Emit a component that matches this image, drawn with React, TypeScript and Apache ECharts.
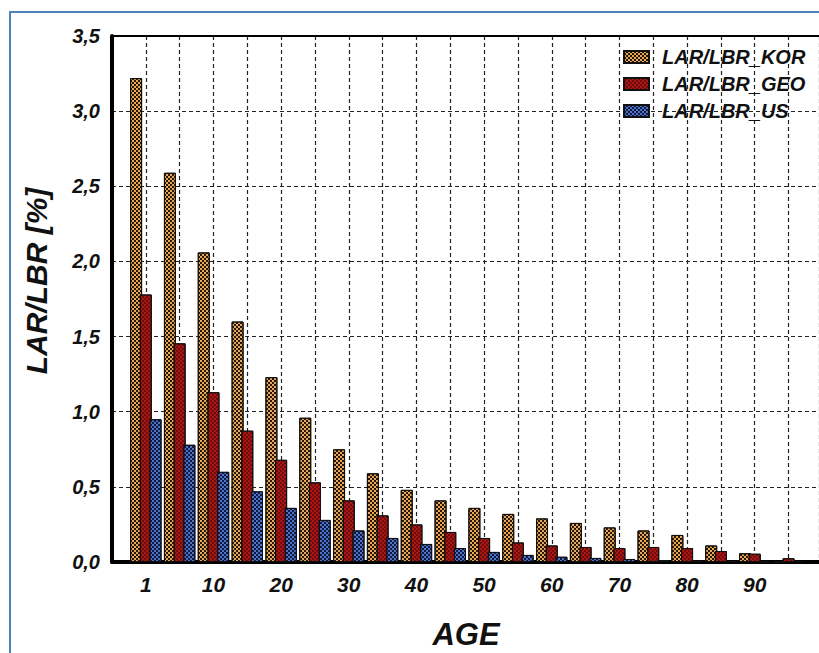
import React, { useEffect, useRef } from "react";
import * as echarts from "echarts";

const ages = ["1", "5", "10", "15", "20", "25", "30", "35", "40", "45", "50", "55", "60", "65", "70", "75", "80", "85", "90", "95"];
const xTickLabels = ["1", "10", "20", "30", "40", "50", "60", "70", "80", "90"];
const seriesNames = ["LAR/LBR_KOR", "LAR/LBR_GEO", "LAR/LBR_US"];
const korValues = [3.22, 2.59, 2.06, 1.6, 1.23, 0.96, 0.75, 0.59, 0.48, 0.41, 0.36, 0.32, 0.29, 0.26, 0.23, 0.21, 0.18, 0.11, 0.058, 0.0];
const geoValues = [1.78, 1.455, 1.13, 0.874, 0.68, 0.53, 0.41, 0.31, 0.25, 0.2, 0.16, 0.13, 0.11, 0.1, 0.093, 0.1, 0.093, 0.073, 0.055, 0.025];
const usValues = [0.95, 0.78, 0.6, 0.47, 0.36, 0.28, 0.21, 0.16, 0.12, 0.093, 0.067, 0.047, 0.035, 0.027, 0.02, 0.012, 0.008, 0.005, 0.003, 0.005];

const FONT = "'Liberation Sans', Arial, sans-serif";

function checker(color: string) {
  return {
    symbol: "rect",
    symbolSize: 1,
    color,
    dashArrayX: [[2, 2], [0, 2, 2, 0]],
    dashArrayY: [2, 0],
    rotation: 0,
  };
}

export default function App() {
  const ref = useRef<HTMLDivElement>(null);
  useEffect(() => {
    if (!ref.current) return;
    const chart = echarts.init(ref.current, null, { renderer: "svg" });
    const styles = [
      { color: "#E6A95A", decal: checker("#2a1606") },
      { color: "#A81616", decal: checker("rgba(60,0,0,0.5)") },
      { color: "#4E72C4", decal: checker("#0e1944") },
    ];
    const valueSets = [korValues, geoValues, usValues];
    const series = seriesNames.map((name, s) => ({
      name,
      type: "bar",
      barWidth: 12,
      barGap: "-19%",
      data: valueSets[s].map((v, i) => [i, v]),
      itemStyle: {
        color: styles[s].color,
        decal: styles[s].decal,
        borderColor: "#111",
        borderWidth: 1,
      },
    }));
    const option: any = {
      animation: false,
      backgroundColor: "#ffffff",
      grid: { left: 112, right: 0, top: 36, bottom: 91, outerBoundsMode: "none", containLabel: false },
      legend: {
        orient: "vertical",
        left: 618,
        top: 42,
        icon: "rect",
        itemWidth: 25,
        itemHeight: 12,
        itemGap: 7,
        data: seriesNames,
        textStyle: {
          fontSize: 20,
          fontWeight: "bold",
          fontStyle: "italic",
          fontFamily: FONT,
          color: "#111",
          lineHeight: 20,
          padding: [0, 0, 0, 8],
        },
      },
      xAxis: [
        {
          type: "value",
          min: -1,
          max: 19.9,
          interval: 1,
          axisLine: { show: true, onZero: false, lineStyle: { color: "#000", width: 4 } },
          axisTick: { show: false },
          splitLine: { show: true, lineStyle: { color: "#222", width: 1.2, type: [4, 3] } },
          axisLabel: {
            margin: 12,
            fontSize: 21,
            fontWeight: "bold",
            fontStyle: "italic",
            fontFamily: FONT,
            color: "#111",
            formatter: (v: number) => {
              const i = Math.round(v);
              if (Math.abs(v - i) > 1e-6 || i < 0 || i >= ages.length) return "";
              return xTickLabels.includes(ages[i]) ? ages[i] : "";
            },
          },
        },
        {
          type: "value",
          position: "top",
          min: -1,
          max: 19.9,
          interval: 1,
          axisLine: { show: true, onZero: false, lineStyle: { color: "#000", width: 2 } },
          axisTick: { show: false },
          axisLabel: { show: false },
          splitLine: { show: false },
        },
      ],
      yAxis: {
        type: "value",
        min: 0,
        max: 3.5,
        interval: 0.5,
        axisLine: { show: true, onZero: false, lineStyle: { color: "#000", width: 4 } },
        axisTick: { show: false },
        splitLine: { show: true, lineStyle: { color: "#222", width: 1.2, type: [4, 3] } },
        axisLabel: {
          margin: 12,
          fontSize: 20,
          fontWeight: "bold",
          fontStyle: "italic",
          fontFamily: FONT,
          color: "#111",
          formatter: (v: number) => v.toFixed(1).replace(".", ","),
        },
      },
      graphic: [
        {
          type: "rect",
          silent: true,
          shape: { x: 10, y: 12, width: 1200, height: 1200 },
          style: { fill: "none", stroke: "#4f81bd", lineWidth: 2 },
        },
        {
          type: "text",
          x: 36,
          y: 281,
          rotation: Math.PI / 2,
          style: {
            text: "LAR/LBR [%]",
            fontSize: 30,
            fontWeight: "bold",
            fontStyle: "italic",
            fontFamily: FONT,
            fill: "#111",
            align: "center",
            verticalAlign: "middle",
          },
        },
        {
          type: "text",
          x: 466,
          y: 634,
          style: {
            text: "AGE",
            fontSize: 31,
            fontWeight: "bold",
            fontStyle: "italic",
            fontFamily: FONT,
            fill: "#111",
            align: "center",
            verticalAlign: "middle",
          },
        },
      ],
      series,
    };
    chart.setOption(option);
    return () => chart.dispose();
  }, []);
  return (
    <div
      ref={ref}
      style={{ position: "fixed", left: 0, top: 0, width: 819, height: 653, background: "#fff" }}
    />
  );
}
